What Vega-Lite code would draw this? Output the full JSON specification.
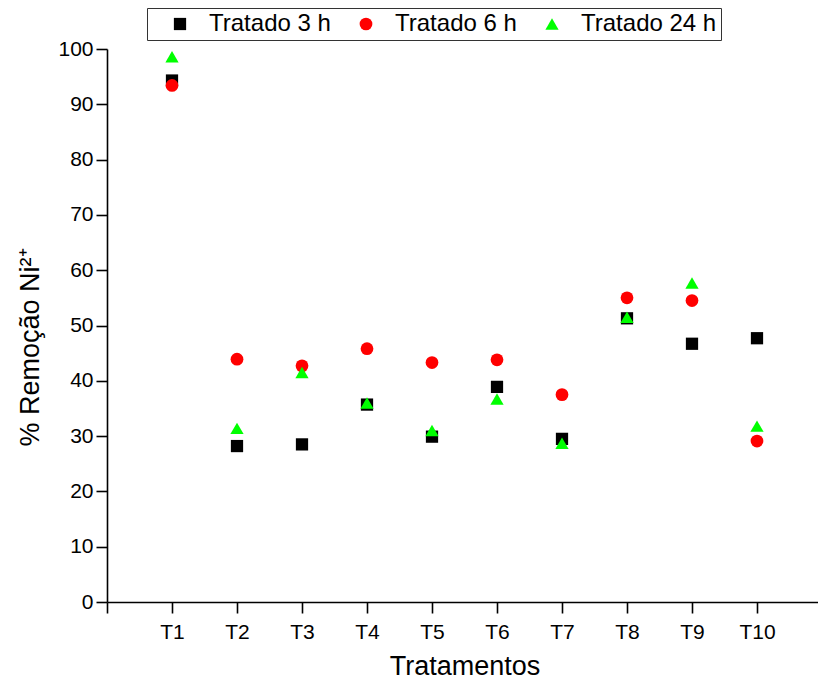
{
  "$schema": "https://vega.github.io/schema/vega-lite/v6.json",
  "autosize": "none",
  "width": 715,
  "height": 553,
  "padding": {"left": 107, "top": 49, "right": 0, "bottom": 84},
  "background": "white",
  "config": {
    "view": {"stroke": null},
    "font": "Liberation Sans",
    "axis": {
      "grid": false,
      "domainColor": "black",
      "domainWidth": 1.6,
      "tickColor": "black",
      "tickWidth": 1.6,
      "tickSize": 11,
      "labelColor": "black",
      "titleColor": "black",
      "labelFont": "Liberation Sans",
      "titleFont": "Liberation Sans",
      "titleFontWeight": "normal"
    }
  },
  "data": {
    "values": [
      {"t": 1, "v": 94.3, "s": "Tratado 3 h"},
      {"t": 2, "v": 28.2, "s": "Tratado 3 h"},
      {"t": 3, "v": 28.5, "s": "Tratado 3 h"},
      {"t": 4, "v": 35.7, "s": "Tratado 3 h"},
      {"t": 5, "v": 29.9, "s": "Tratado 3 h"},
      {"t": 6, "v": 38.9, "s": "Tratado 3 h"},
      {"t": 7, "v": 29.5, "s": "Tratado 3 h"},
      {"t": 8, "v": 51.3, "s": "Tratado 3 h"},
      {"t": 9, "v": 46.7, "s": "Tratado 3 h"},
      {"t": 10, "v": 47.7, "s": "Tratado 3 h"},
      {"t": 1, "v": 93.4, "s": "Tratado 6 h"},
      {"t": 2, "v": 43.9, "s": "Tratado 6 h"},
      {"t": 3, "v": 42.7, "s": "Tratado 6 h"},
      {"t": 4, "v": 45.8, "s": "Tratado 6 h"},
      {"t": 5, "v": 43.3, "s": "Tratado 6 h"},
      {"t": 6, "v": 43.8, "s": "Tratado 6 h"},
      {"t": 7, "v": 37.5, "s": "Tratado 6 h"},
      {"t": 8, "v": 55.0, "s": "Tratado 6 h"},
      {"t": 9, "v": 54.5, "s": "Tratado 6 h"},
      {"t": 10, "v": 29.1, "s": "Tratado 6 h"},
      {"t": 1, "v": 98.6, "s": "Tratado 24 h"},
      {"t": 2, "v": 31.4, "s": "Tratado 24 h"},
      {"t": 3, "v": 41.5, "s": "Tratado 24 h"},
      {"t": 4, "v": 36.0, "s": "Tratado 24 h"},
      {"t": 5, "v": 31.0, "s": "Tratado 24 h"},
      {"t": 6, "v": 36.7, "s": "Tratado 24 h"},
      {"t": 7, "v": 28.7, "s": "Tratado 24 h"},
      {"t": 8, "v": 51.5, "s": "Tratado 24 h"},
      {"t": 9, "v": 57.7, "s": "Tratado 24 h"},
      {"t": 10, "v": 31.8, "s": "Tratado 24 h"}
    ]
  },
  "mark": {"type": "point", "filled": true, "opacity": 1, "strokeWidth": 0},
  "encoding": {
    "x": {
      "field": "t",
      "type": "quantitative",
      "scale": {"domain": [0, 11], "nice": false, "zero": false},
      "axis": {
        "values": [0, 1, 2, 3, 4, 5, 6, 7, 8, 9, 10],
        "labelExpr": "datum.value == 0 ? '' : 'T' + datum.value",
        "labelFontSize": 21,
        "labelPadding": 8,
        "title": "Tratamentos",
        "titleFontSize": 27,
        "titlePadding": 11
      }
    },
    "y": {
      "field": "v",
      "type": "quantitative",
      "scale": {"domain": [0, 100], "nice": false},
      "axis": {
        "values": [0, 10, 20, 30, 40, 50, 60, 70, 80, 90, 100],
        "labelFontSize": 21,
        "labelPadding": 3,
        "title": "% Remoção Ni²⁺",
        "titleFontSize": 27,
        "titlePadding": 13,
        "titleY": 298
      }
    },
    "color": {
      "field": "s",
      "type": "nominal",
      "scale": {"domain": ["Tratado 3 h", "Tratado 6 h", "Tratado 24 h"], "range": ["#000000", "#ff0000", "#00ff00"]},
      "legend": {
        "orient": "none",
        "legendX": 40,
        "legendY": -41,
        "direction": "horizontal",
        "columns": 3,
        "title": null,
        "labelFontSize": 24,
        "labelFont": "Liberation Sans",
        "labelColor": "black",
        "labelOffset": 17,
        "columnPadding": 6,
        "padding": 4,
        "symbolOffset": 17,
        "labelLimit": 300,
        "labelExpr": "indexof(datum.label, '24') >= 0 ? datum.label + '\u2007\u2007' : datum.label",
        "strokeColor": "#333333",
        "fillColor": "white",
        "encode": {"legend": {"update": {"strokeWidth": {"value": 1.5}}}}
      }
    },
    "shape": {
      "field": "s",
      "type": "nominal",
      "scale": {"domain": ["Tratado 3 h", "Tratado 6 h", "Tratado 24 h"], "range": ["square", "circle", "triangle-up"]}
    },
    "size": {
      "field": "s",
      "type": "nominal",
      "scale": {"domain": ["Tratado 3 h", "Tratado 6 h", "Tratado 24 h"], "range": [150, 175, 260]}
    }
  }
}
